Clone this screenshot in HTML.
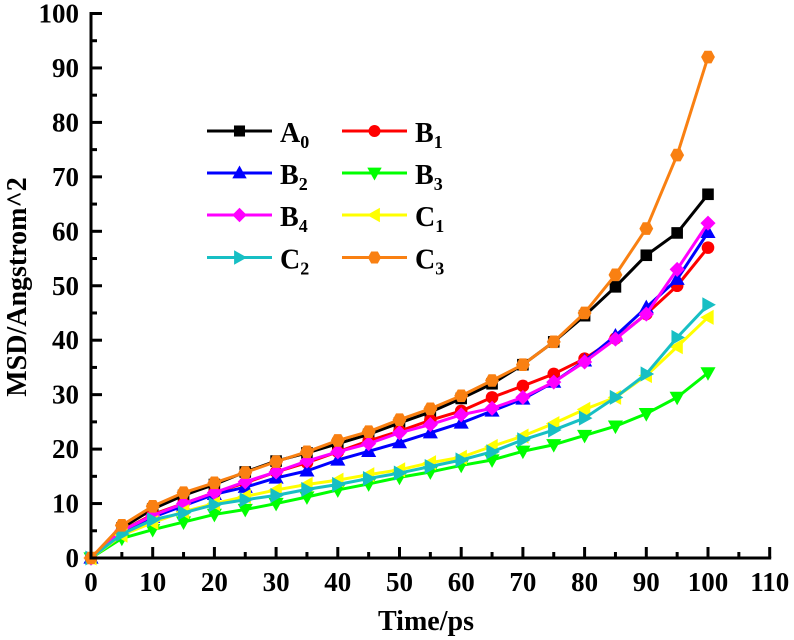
<!DOCTYPE html>
<html>
<head>
<meta charset="utf-8">
<style>
html,body{margin:0;padding:0;background:#fff;}
svg{display:block;font-family:"Liberation Serif",serif;font-weight:bold;fill:#000;}
</style>
</head>
<body>
<svg id="chart" width="794" height="640" viewBox="0 0 794 640" xmlns="http://www.w3.org/2000/svg"></svg>
<script>
const times = [0,5,10,15,20,25,30,35,40,45,50,55,60,65,70,75,80,85,90,95,100];
const seriesA0 = [0,5.5,9,11.5,13.5,15.8,17.8,19.3,21,22.7,24.8,26.8,29.3,32,35.5,39.7,44.5,49.8,55.6,59.7,66.8];
const seriesB1 = [0,5,8,10,12,13.8,15.8,17.5,19.5,21.5,23.3,25.3,27,29.5,31.6,33.8,36.6,40.3,44.8,50,57];
const seriesB2 = [0,4.8,7.5,9.6,11.7,13,14.7,16,18,19.6,21.2,23,24.8,27,29.2,32.3,36.2,40.8,46,51.2,59.8];
const seriesB3 = [0,3.6,5.2,6.6,8,8.9,10,11.2,12.5,13.6,14.8,15.8,17,18,19.6,20.8,22.5,24.2,26.5,29.5,34];
const seriesB4 = [0,5,7.8,10,12,14,15.8,17.8,19.5,21,23,24.5,26.3,27.5,29.5,32.3,36,40.2,44.8,53,61.5];
const seriesC1 = [0,4.2,6.5,8.5,10,11.3,12.5,13.5,14.3,15.3,16.2,17.5,18.5,20.5,22.4,24.7,27.3,29.5,33.5,38.8,44.2];
const seriesC2 = [0,4.4,7,8.3,9.8,10.7,11.5,12.6,13.5,14.6,15.6,16.8,18,19.5,21.7,23.5,25.7,29.5,33.8,40.5,46.5];
const seriesC3 = [0,6,9.5,12,13.8,15.7,17.7,19.5,21.6,23.2,25.4,27.4,29.8,32.6,35.5,39.7,45,52,60.5,74,92];
const xTickLabels = [0,10,20,30,40,50,60,70,80,90,100,110];
const yTickLabels = [0,10,20,30,40,50,60,70,80,90,100];
const seriesNames = ["A0","B1","B2","B3","B4","C1","C2","C3"];

const NS = "http://www.w3.org/2000/svg";
const svg = document.getElementById("chart");
const sx = v => 91 + v * 6.17;
const sy = v => 558 - v * 5.445;

function make(tag, attrs, parent) {
  const el = document.createElementNS(NS, tag);
  for (const k in attrs) el.setAttribute(k, attrs[k]);
  (parent || svg).appendChild(el);
  return el;
}

const styles = [
  {values: seriesA0, color: "#000000", shape: "square"},
  {values: seriesB1, color: "#ff0000", shape: "circle"},
  {values: seriesB2, color: "#0000ff", shape: "up"},
  {values: seriesB3, color: "#00ff00", shape: "down"},
  {values: seriesB4, color: "#ff00ff", shape: "diamond"},
  {values: seriesC1, color: "#ffff00", shape: "left"},
  {values: seriesC2, color: "#17bfc4", shape: "right"},
  {values: seriesC3, color: "#f98012", shape: "hexagon"}
];

function marker(shape, color, x, y, parent, r) {
  let el;
  if (shape === "square") {
    el = make("rect", {x: x - r * 0.92, y: y - r * 0.92, width: r * 1.84, height: r * 1.84, fill: color}, parent);
  } else if (shape === "circle") {
    el = make("circle", {cx: x, cy: y, r: r, fill: color}, parent);
  } else {
    let pts;
    if (shape === "up") pts = [[0,-r*1.25],[r*1.2,r*0.9],[-r*1.2,r*0.9]];
    if (shape === "down") pts = [[0,r*1.25],[r*1.2,-r*0.9],[-r*1.2,-r*0.9]];
    if (shape === "left") pts = [[-r*1.25,0],[r*0.9,r*1.2],[r*0.9,-r*1.2]];
    if (shape === "right") pts = [[r*1.25,0],[-r*0.9,r*1.2],[-r*0.9,-r*1.2]];
    if (shape === "diamond") pts = [[0,-r*1.2],[r*1.2,0],[0,r*1.2],[-r*1.2,0]];
    if (shape === "hexagon") pts = [[-r*0.55,-r],[r*0.55,-r],[r*1.1,0],[r*0.55,r],[-r*0.55,r],[-r*1.1,0]];
    el = make("polygon", {points: pts.map(p => (x + p[0]) + "," + (y + p[1])).join(" "), fill: color}, parent);
  }
  return el;
}

/* series */
styles.forEach((s, i) => {
  const g = make("g", {});
  
  
  const pts = s.values.map((v, j) => sx(times[j]) + "," + sy(v)).join(" ");
  const line = make("polyline", {points: pts, fill: "none", stroke: s.color, "stroke-width": 3, "stroke-linejoin": "round"}, g);
  
  
  s.values.forEach((v, j) => {
    const m = marker(s.shape, s.color, sx(times[j]), sy(v), g, 6.3);
    
    
  });
});

/* axes */
const axes = make("g", {stroke: "#000", "stroke-width": 3, fill: "none"});


const xAxisLine = make("line", {x1: 89.5, y1: 558, x2: sx(110) + 1.5, y2: 558}, axes);


const yAxisLine = make("line", {x1: 91, y1: 559.5, x2: 91, y2: sy(100) - 1.5}, axes);



xTickLabels.forEach(v => {
  const major = make("line", {x1: sx(v), y1: 558, x2: sx(v), y2: 547}, axes);
  
  
  if (v < 110) {
    const minor = make("line", {x1: sx(v + 5), y1: 558, x2: sx(v + 5), y2: 552}, axes);
    
    
  }
  const t = make("text", {x: sx(v), y: 591, "text-anchor": "middle", "font-size": 27});
  t.textContent = v;
  
  
});

yTickLabels.forEach(v => {
  const major = make("line", {x1: 91, y1: sy(v), x2: 102, y2: sy(v)}, axes);
  
  
  if (v < 100) {
    const minor = make("line", {x1: 91, y1: sy(v + 5), x2: 97, y2: sy(v + 5)}, axes);
    
    
  }
  const t = make("text", {x: 79, y: sy(v) + 9, "text-anchor": "end", "font-size": 27});
  t.textContent = v;
  
  
});

/* axis titles */
const xTitle = make("text", {x: 426, y: 630, "text-anchor": "middle", "font-size": 28});
xTitle.textContent = "Time/ps";


const yTitle = make("text", {x: 0, y: 0, "text-anchor": "middle", "font-size": 28, transform: "translate(26 287) rotate(-90)"});
yTitle.textContent = "MSD/Angstrom^2";



/* legend */
const legend = make("g", {});


const legendRowY = [131, 173, 215, 257.5];
styles.forEach((s, i) => {
  const col = i % 2;
  const y = legendRowY[Math.floor(i / 2)];
  const x0 = col === 0 ? 207 : 342;
  const entry = make("g", {}, legend);
  
  
  make("line", {x1: x0, y1: y, x2: x0 + 65, y2: y, stroke: s.color, "stroke-width": 3}, entry);
  marker(s.shape, s.color, x0 + 32.5, y, entry, 6);
  const t = make("text", {x: x0 + 73, y: y + 11, "font-size": 28}, entry);
  const main = make("tspan", {}, t);
  main.textContent = seriesNames[i][0];
  const sub = make("tspan", {dy: 6, "font-size": 18}, t);
  sub.textContent = seriesNames[i][1];
});
</script>
</body>
</html>
